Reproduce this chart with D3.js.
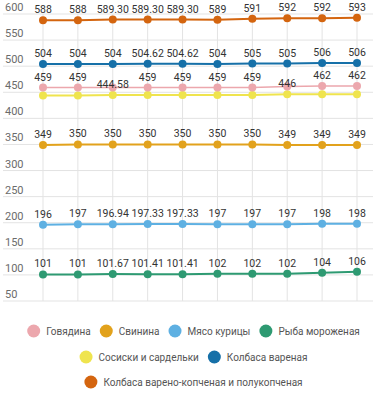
<!DOCTYPE html>
<html><head><meta charset="utf-8">
<script src="https://cdn.jsdelivr.net/npm/d3@7"></script>
<style>body{margin:0;background:#fff;font-family:Roboto,"Noto Sans",sans-serif;}</style>
</head><body><svg id="c" width="381" height="400"></svg>
<script>
const categories = [1,2,3,4,5,6,7,8,9,10];
const seriesNames = ["Говядина","Свинина","Мясо курицы","Рыба мороженая","Сосиски и сардельки","Колбаса вареная","Колбаса варено-копченая и полукопченая"];
const colors = ["#eca7ad","#e2a21c","#5eb0e2","#2e9a72","#efe44e","#1670a8","#d4650f"];
const beef    = [459,459,459,459,459,459,459,461,462,462];
const pork    = [349,350,350,350,350,350,350,349,349,349];
const chicken = [196,197,196.94,197.33,197.33,197,197,197,198,198];
const fish    = [101,101,101.67,101.41,101.41,102,102,102,104,106];
const sausages= [444,444,444.58,444.58,444.58,445,445,446,446,446];
const boiled  = [504,504,504,504.62,504.62,504,505,505,506,506];
const smoked  = [588,588,589.30,589.30,589.30,589,591,592,592,593];
const yTicks = [50,100,150,200,250,300,350,400,450,500,550,600];
// indices of point labels that the original hides (overlaps)
const hiddenLabels = [[2,7],[],[],[],[0,1,3,4,5,6,8,9],[],[]];

const values = [beef,pork,chicken,fish,sausages,boiled,smoked];
const svg = d3.select("#c");
const x = d3.scalePoint().domain(categories).range([43,357]);
const y = d3.scaleLinear().domain([50,600]).range([301,14]);

const gy = svg.append("g");
yTicks.forEach(t=>{
  gy.append("line").attr("x1",3).attr("x2",373).attr("y1",y(t)).attr("y2",y(t))
    .attr("stroke","#e3e3e3").attr("stroke-width",1);
  gy.append("text").attr("x",5).attr("y",y(t)-3).text(t)
    .attr("font-size",11).attr("fill","#6b6b6b");
});
categories.forEach(c=>{
  svg.append("line").attr("x1",x(c)).attr("x2",x(c)).attr("y1",y(600)).attr("y2",y(50))
    .attr("stroke","#e3e3e3").attr("stroke-width",1);
});

const line = d3.line().x((d,i)=>x(categories[i])).y(d=>y(d));
const drawOrder = [4,0,1,2,3,5,6];
drawOrder.forEach(s=>{
  const g = svg.append("g");
  g.append("path").attr("d",line(values[s])).attr("fill","none")
    .attr("stroke",colors[s]).attr("stroke-width",s===0?1.5:2);
  g.selectAll("circle").data(values[s]).join("circle")
    .attr("cx",(d,i)=>x(categories[i])).attr("cy",d=>y(d)).attr("r",4)
    .attr("fill",colors[s]);
});
const fmt = v => Number.isInteger(v) ? String(v) : v.toFixed(2);
drawOrder.forEach(s=>{
  values[s].forEach((v,i)=>{
    if (hiddenLabels[s].includes(i)) return;
    svg.append("text").attr("x",x(categories[i])).attr("y",y(v)-7)
      .attr("text-anchor","middle").attr("font-size",10.5).attr("fill","#333")
      .text(fmt(v));
  });
});

const rows = [[0,1,2,3],[4,5],[6]];
const rowY = [331,357,382];
rows.forEach((r,ri)=>{
  const g = svg.append("g");
  let cx = 0;
  r.forEach(s=>{
    g.append("circle").attr("cx",cx+6.5).attr("cy",rowY[ri]).attr("r",6.5).attr("fill",colors[s]);
    const t = g.append("text").attr("x",cx+19).attr("y",rowY[ri]+3.5)
      .attr("font-size",10).attr("fill","#555").text(seriesNames[s]);
    cx += 19 + t.node().getComputedTextLength() + 9;
  });
  const w = cx - 9;
  g.attr("transform",`translate(${(381-w)/2 + 3},0)`);
});
</script></body></html>
